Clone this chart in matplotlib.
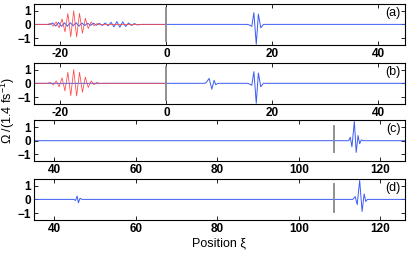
import matplotlib
matplotlib.use('Agg')
import matplotlib.pyplot as plt

plt.rcParams['font.family'] = ['Liberation Sans', 'DejaVu Sans']
plt.rcParams['mathtext.fontset'] = 'custom'
plt.rcParams['mathtext.rm'] = 'Liberation Sans'

# red packet (panels a, b)
red_x = [-25, -22.5, -21.9, -21.35, -20.8, -20.25, -19.7, -19.15, -18.6, -18.05, -17.5,
         -16.95, -16.4, -15.85, -15.3, -14.75, -14.2, -13.65, -13.1, -12.55, -12.0, 0]
red_y = [0, 0, 0.06, -0.12, 0.18, -0.25, 0.4, -0.55, 0.8, -0.9, 1.0,
         -0.92, 0.8, -0.65, 0.45, -0.3, 0.18, -0.1, 0.06, -0.03, 0, 0]

# blue field, panel (a)
blue_a_x = [-25, -22.0, -21.45, -20.9, -20.35, -19.8, -19.25, -18.7, -18.15, -17.6, -17.05,
            -16.5, -15.95, -15.4, -14.85, -14.3, -13.75, -13.2, -12.65, -12.1, -11.55, -11.0,
            -10.45, -9.9, -9.35, -8.8, -8.25, -7.7, -7.15, -6.6, -6.05, -5.5, -4.8,
            15.2, 15.7, 16.1, 16.5, 16.95, 17.35, 17.8, 18.3, 45]
blue_a_y = [0, 0, 0.1, -0.12, 0.14, -0.15, 0.12, -0.14, 0.12, -0.1, 0.12,
            -0.13, 0.1, -0.08, 0.08, -0.07, 0.08, -0.06, 0.07, -0.08, 0.1, -0.1,
            0.15, -0.18, 0.2, -0.2, 0.18, -0.15, 0.1, -0.08, 0.06, -0.04, 0,
            0, -0.05, -0.15, 0.85, -1.45, 0.75, -0.25, 0, 0]

# blue field, panel (b)
blue_b_x = [-25, 7.3, 7.6, 8.05, 8.57, 9.0, 9.3, 9.7,
            15.2, 15.7, 16.1, 16.5, 16.95, 17.35, 17.8, 18.3, 45]
blue_b_y = [0, 0, 0.1, 0.36, -0.43, 0.22, -0.1, 0,
            0, -0.05, -0.15, 0.85, -1.45, 0.75, -0.25, 0, 0]

# blue field, panel (c)
blue_c_x = [35, 112.2, 112.6, 113.0, 113.6, 114.05, 114.5, 114.9, 115.3, 115.8, 126]
blue_c_y = [0, 0, 0.25, -0.45, 1.4, -0.85, 0.38, -0.22, 0.06, 0, 0]

# blue field, panel (d)
blue_d_x = [35, 44.8, 45.2, 45.6, 45.9, 46.3, 46.8, 113.2, 113.8, 114.3, 114.9,
            115.5, 116.0, 116.4, 116.8, 126]
blue_d_y = [0, 0, -0.08, 0.24, -0.25, 0.08, 0, 0, 0.2, -0.38, 1.38,
            -0.88, 0.4, -0.15, 0, 0]

marker_ab = 0
marker_cd = 108.7

fig = plt.figure(figsize=(4.09, 2.54), dpi=100)
left, width, h = 0.083, 0.907, 0.162
bottoms = [0.823, 0.591, 0.365, 0.134]
blue = '#3b5bf5'
red = '#ff4545'
tick_font = dict(fontsize=8.5, fontweight='bold')

axes = []
for b in bottoms:
    axes.append(fig.add_axes([left, b, width, h]))

panels = [
    (blue_a_x, blue_a_y, True, marker_ab, (-25, 45), [-20, 0, 20, 40], (-1.2, 1.2)),
    (blue_b_x, blue_b_y, True, marker_ab, (-25, 45), [-20, 0, 20, 40], (-1.2, 1.2)),
    (blue_c_x, blue_c_y, False, marker_cd, (35, 126), [40, 60, 80, 100, 120], (-0.85, 1.05)),
    (blue_d_x, blue_d_y, False, marker_cd, (35, 126), [40, 60, 80, 100, 120], (-0.9, 1.1)),
]
labels = ['(a)', '(b)', '(c)', '(d)']

for ax, (bx, by, has_red, mk, xl, xt, mspan), lab in zip(axes, panels, labels):
    ax.plot(bx, by, color=blue, lw=0.7)
    if has_red:
        ax.plot(red_x, red_y, color=red, lw=0.55)
    ax.plot([mk, mk], mspan, color='#888888', lw=1.3)
    ax.set_xlim(xl)
    ax.set_ylim(-1.5, 1.5)
    ax.set_xticks(xt)
    ax.set_yticks([-1, 0, 1])
    ax.set_xticklabels([str(t) for t in xt], **tick_font)
    ax.set_yticklabels(['\u22121', '0', '1'], **tick_font)
    ax.tick_params(direction='in', top=True, right=True, length=3, width=0.6, pad=2)
    for s in ax.spines.values():
        s.set_linewidth(0.8)
    ax.text(0.988, 0.93, lab, transform=ax.transAxes, ha='right', va='top', fontsize=9)

fig.text(0.02, 0.565, '\u03a9 /(1.4 fs$^{-1}$)', rotation=90, ha='center', va='center', fontsize=9)
fig.text(0.535, 0.02, 'Position \u03be', ha='center', va='bottom', fontsize=9)

plt.savefig('out.png', dpi=100)
